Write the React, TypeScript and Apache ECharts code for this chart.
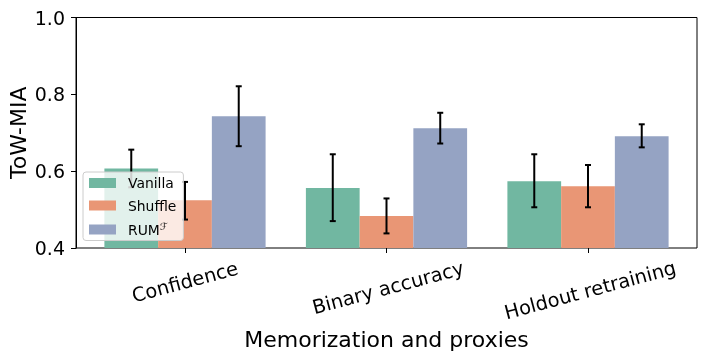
import React, { useEffect, useRef } from "react";
import * as echarts from "echarts";

const categories = ["Confidence", "Binary accuracy", "Holdout retraining"];
const seriesNames = ["Vanilla", "Shuffle", "RUM"];
const vanilla = [0.607, 0.556, 0.574];
const shuffle = [0.524, 0.483, 0.561];
const rum = [0.743, 0.712, 0.691];
const vanillaErr = [[0.558, 0.656], [0.47, 0.644], [0.506, 0.644]];
const shuffleErr = [[0.474, 0.572], [0.438, 0.529], [0.506, 0.616]];
const rumErr = [[0.665, 0.821], [0.672, 0.752], [0.662, 0.722]];
const yMin = 0.4;
const yMax = 1.0;
const yStep = 0.2;

const colors = ["#71b7a1", "#e99675", "#95a3c3"];
const FONT = "DejaVu Sans";

export default function App() {
  const ref = useRef<HTMLDivElement>(null);
  useEffect(() => {
    if (!ref.current) return;
    const chart = echarts.init(ref.current, null, { renderer: "svg" });
    const values = [vanilla, shuffle, rum];
    const errs = [vanillaErr, shuffleErr, rumErr];
    const errData: number[][] = [];
    errs.forEach((e, s) => e.forEach((lh, i) => errData.push([i, lh[0], lh[1], s])));

    const labelPads = [0, 12, 17];
    const rich: any = {};
    labelPads.forEach((p, i) => {
      rich["l" + i] = { fontSize: 19.4, fontFamily: FONT, color: "#000", padding: [p, 0, 0, 0] };
    });

    chart.setOption({
      animation: false,
      textStyle: { fontFamily: FONT },
      grid: [
        {
          left: 76, top: 17.5, width: 621, height: 230.5,
          show: true, borderColor: "#000", borderWidth: 1, backgroundColor: "transparent",
          containLabel: false, outerBoundsMode: "none",
        },
        { left: 84.25, top: 17.5, width: 604.5, height: 230.5, containLabel: false, outerBoundsMode: "none" },
      ],
      xAxis: [
        { type: "value", gridIndex: 0, min: 0, max: 1, show: false },
        {
          type: "category",
          gridIndex: 1,
          data: categories,
          axisLine: { show: false },
          axisTick: { show: true, alignWithLabel: true, length: 5, lineStyle: { color: "#000", width: 1 } },
          axisLabel: {
            interval: 0,
            rotate: 15,
            align: "center",
            verticalAlign: "middle",
            margin: 34,
            fontSize: 19.4,
            color: "#000",
            fontFamily: FONT,
            formatter: (v: string, i: number) => `{l${i}|${v}}`,
            rich,
          },
          name: "Memorization and proxies",
          nameLocation: "middle",
          nameGap: 80,
          nameMoveOverlap: false,
          nameTextStyle: { fontSize: 22, color: "#000", fontFamily: FONT },
        },
      ],
      yAxis: [
        {
          type: "value",
          gridIndex: 0,
          min: yMin,
          max: yMax,
          interval: yStep,
          splitLine: { show: false },
          axisLine: { show: true, lineStyle: { color: "#000", width: 1 } },
          axisTick: { show: true, length: 5, lineStyle: { color: "#000", width: 1 } },
          axisLabel: { fontSize: 19, color: "#000", margin: 11, fontFamily: FONT, formatter: (v: number) => v.toFixed(1) },
          name: "ToW-MIA",
          nameLocation: "middle",
          nameGap: 47,
          nameMoveOverlap: false,
          nameTextStyle: { fontSize: 22, color: "#000", fontFamily: FONT },
        },
        { type: "value", gridIndex: 1, min: yMin, max: yMax, interval: yStep, show: false },
      ],
      legend: {
        orient: "vertical",
        left: 83,
        top: 172,
        data: seriesNames,
        icon: "rect",
        itemWidth: 27,
        itemHeight: 10,
        itemGap: 8.5,
        padding: [4, 7, 4, 6],
        backgroundColor: "rgba(255,255,255,0.8)",
        borderColor: "#cccccc",
        borderWidth: 1,
        borderRadius: 3,
        formatter: (n: string) => (n === "RUM" ? "RUM{sup|ℱ}" : n),
        textStyle: {
          fontSize: 13.9,
          color: "#000",
          fontFamily: FONT,
          padding: [0, 0, 0, 7],
          rich: { sup: { fontSize: 10, fontFamily: FONT, color: "#000", padding: [0, 0, 7, 0] } },
        },
      },
      series: [
        ...seriesNames.map((n, s) => ({
          name: n,
          type: "bar",
          xAxisIndex: 1,
          yAxisIndex: 1,
          data: values[s],
          barGap: "0%",
          barCategoryGap: "20%",
          clip: true,
          itemStyle: { color: colors[s] },
        })),
        {
          type: "custom",
          xAxisIndex: 1,
          yAxisIndex: 1,
          z: 3,
          data: errData,
          encode: { x: 0, y: [1, 2] },
          renderItem: (params: any, api: any) => {
            const cat = api.value(0);
            const lo = api.value(1);
            const hi = api.value(2);
            const s = api.value(3);
            const band = api.size([1, 0])[0];
            const off = ((s - 1) * band * 0.8) / 3;
            const pLo = api.coord([cat, lo]);
            const pHi = api.coord([cat, hi]);
            const x = pLo[0] + off;
            const st = { stroke: "#000", lineWidth: 2 };
            return {
              type: "group",
              children: [
                { type: "line", shape: { x1: x, y1: pLo[1], x2: x, y2: pHi[1] }, style: st },
                { type: "line", shape: { x1: x - 3, y1: pLo[1], x2: x + 3, y2: pLo[1] }, style: st },
                { type: "line", shape: { x1: x - 3, y1: pHi[1], x2: x + 3, y2: pHi[1] }, style: st },
              ],
            };
          },
        },
      ],
    });
    return () => chart.dispose();
  }, []);
  return <div ref={ref} style={{ position: "fixed", left: 0, top: 0, width: 706, height: 358 }} />;
}
